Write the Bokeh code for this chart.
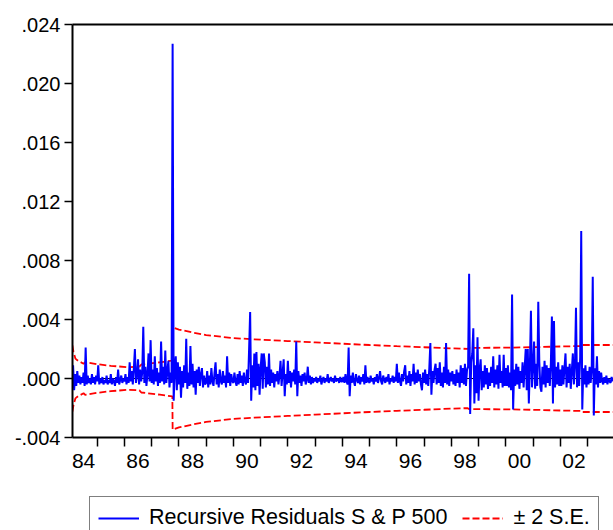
import numpy as np
from bokeh.plotting import figure
from bokeh.layouts import column
from bokeh.models import (Range1d, FixedTicker, LinearAxis, Span, Legend,
                          LegendItem, ColumnDataSource)
from bokeh.embed import file_html
from bokeh.resources import INLINE

# ---------------- data ----------------
# Recursive residuals, in units of 1e-4,
# sampled 26 times per year (index k -> year + k/26)
res_1984 = [9, -8, 3, -5, 5, -3, 2, -4, 1, -3, 4, -5, 21, -4, 2, -3, 0, -4, 3, -3, 1, -4, 2]  # starts at k=3
res_1985 = [-2, 9, -4, 0, -3, 1, -4, -1, -3, 2, -4, -1, -3, 3, -4, 0, -2, -5, 1, -3, 6, -4, -1, 2, -3, 0]
res_1986 = [-2, 3, -4, 1, -3, 11, -2, 5, -4, 7, 20, -3, 2, 13, -4, 6, -2, 4, 35, -3, 8, -5, 3, 17, -2, 26]
res_1987 = [-3, 6, -4, 15, -2, 7, -5, 4, -3, 25, -2, 8, -4, 19, -3, 5, 12, -6, 4, -3, 227, -15, 6, 15, -8, 11]
res_1988 = [-4, 8, -13, 5, -6, 9, -3, 27, -7, 4, -5, 22, -4, 10, -6, 5, -11, 6, -3, 8, -5, 3, 7, -6, 2, -4]
res_1989 = [-3, 5, -6, 2, -4, 7, -2, -5, 4, 11, -4, 3, -6, 6, -2, -4, 5, -3, 2, -6, 15, -3, 4, -5, 3, -2]
res_1990 = [-3, 4, -2, -5, 3, -4, 5, -3, 2, -5, 4, -2, -4, 6, -3, 20, 45, -15, 9, -6, 17, -8, 18, -5, 10, -11]
res_1991 = [7, 17, -7, 17, 11, -6, 8, -4, 17, -5, 6, -3, 4, -6, 3, -2, 5, -4, 2, 12, -5, 4, 13, -12, 3, -4]
res_1992 = [12, -3, 5, -6, 4, -2, 6, -4, 25, -12, 5, -3, 2, -5, 3, -2, 4, -4, -1, 8, -3, 2, -4, 1, -3, 0]
res_1993 = [-2, 1, -3, 0, -2, 2, -4, -1, 1, -3, 0, -2, 3, -3, -1, 1, -2, 0, -3, 2, -2, -1, 0, -3, 1, -2]
res_1994 = [-2, 1, -3, 3, -2, -4, 21, -12, 2, -3, 4, -2, -5, 3, -1, -3, 2, -4, 1, -2, 3, -4, 9, -3, 1, -2]
res_1995 = [-3, 2, -2, 0, -4, 1, -2, 3, -3, 0, 5, -2, -4, 2, -1, -3, 1, -2, 3, -4, 0, -2, 2, -3, 1, -2]
res_1996 = [10, -3, 4, -2, -5, 3, -2, 5, 9, -4, 2, -3, 5, -5, 3, -2, 10, -4, 4, -3, 6, -2, 3, -4, -8, 4]
res_1997 = [-3, 6, -4, 3, -5, 7, 24, -11, 5, -3, 6, 10, -4, 7, -3, 11, -5, 4, -6, 8, -3, 24, -4, 6, -5, 4]
res_1998 = [-2, 5, -4, 3, -5, 6, -3, 4, -6, 9, -3, 7, -4, 10, -5, 6, 8, 71, -24, 11, 17, 34, -17, 9, -10, 28]
res_1999 = [-15, 6, 13, -8, 5, -6, 9, -4, 7, -7, 4, -5, 8, -3, 15, -6, 6, -4, 9, -7, 16, -3, 5, -6, 16, -5]
res_2000 = [7, -5, 9, -6, 4, -8, 57, -21, 6, -5, 10, -4, 8, -7, 5, -3, 11, -6, 7, 20, -8, 20, -17, 9, 46, -6]
res_2001 = [8, 25, -7, 10, -5, 52, 11, -6, -9, 8, -4, 12, -6, 9, -3, 7, -5, 10, 42, -17, 39, -6, 8, -4, 11, -5]
res_2002 = [6, -5, 9, -4, 7, 17, -6, 8, -3, 10, -7, 5, 17, -4, 9, 48, -6, 11, -5, 14, 100, -21, 7, -4, 9, -6]
res_2003 = [5, -4, 8, -3, 6, 69, -25, 7, -4, 15, -6, 5, -3, 4, -2, -4, 1, -3, 2, -4, 0, -2, -3, 1, -2]

residual_blocks = [
    (1984, 3, res_1984), (1985, 0, res_1985), (1986, 0, res_1986), (1987, 0, res_1987),
    (1988, 0, res_1988), (1989, 0, res_1989), (1990, 0, res_1990), (1991, 0, res_1991),
    (1992, 0, res_1992), (1993, 0, res_1993), (1994, 0, res_1994), (1995, 0, res_1995),
    (1996, 0, res_1996), (1997, 0, res_1997), (1998, 0, res_1998), (1999, 0, res_1999),
    (2000, 0, res_2000), (2001, 0, res_2001), (2002, 0, res_2002), (2003, 0, res_2003),
]

# +/- 2 standard errors band (upper half; lower is its mirror)
se_years = [1984.09, 1984.13, 1984.20, 1984.30, 1984.50, 1984.56, 1985.0, 1985.5,
            1986.1, 1986.55, 1986.62, 1987.3, 1987.76, 1987.77, 1988.0, 1988.5,
            1989.0, 1990.0, 1991.0, 1992.0, 1993.0, 1994.0, 1995.0, 1996.0,
            1997.0, 1998.0, 1998.6, 1998.65, 1999.0, 2000.0, 2001.0, 2002.0,
            2002.75, 2002.78, 2003.96]
se_upper = [0.00225, 0.00180, 0.00135, 0.00120, 0.00100, 0.00111, 0.00097, 0.00086,
            0.00077, 0.00080, 0.00095, 0.00110, 0.00121, 0.00347, 0.00332, 0.00312,
            0.00294, 0.00274, 0.00263, 0.00254, 0.00245, 0.00236, 0.00227, 0.00219,
            0.00212, 0.00204, 0.00201, 0.00207, 0.00208, 0.00209, 0.00212, 0.00217,
            0.00220, 0.00227, 0.00227]

y_ticks = [-0.004, 0.0, 0.004, 0.008, 0.012, 0.016, 0.020, 0.024]
y_tick_labels = ["-.004", ".000", ".004", ".008", ".012", ".016", ".020", ".024"]
x_label_years = [1984, 1986, 1988, 1990, 1992, 1994, 1996, 1998, 2000, 2002]
x_tick_labels = ["84", "86", "88", "90", "92", "94", "96", "98", "00", "02"]
x_minor_years = list(range(1984, 2005))
legend_labels = ["Recursive Residuals S & P 500", "\u00b1 2 S.E."]

# ---------------- build ----------------
t, r = [], []
for yr, k0, vals in residual_blocks:
    for j, v in enumerate(vals):
        t.append(yr + (k0 + j) / 26.0)
        r.append(v * 1e-4)

res_src = ColumnDataSource(dict(t=t, r=r))
band_src = ColumnDataSource(dict(t=se_years, up=se_upper, lo=[-v for v in se_upper]))

FONT = "Liberation Sans"
BLUE = "#0000FF"
RED = "#FF0000"
DASH = "7 3"

p = figure(width=613, height=496, output_backend="svg", toolbar_location=None,
           x_range=Range1d(1984.094, 2003.954), y_range=Range1d(-0.004, 0.024),
           min_border_left=72, min_border_right=0, min_border_top=24,
           min_border_bottom=59)
p.outline_line_color = None
p.grid.visible = False
p.background_fill_color = "white"
p.border_fill_color = "white"

zero = Span(location=0, dimension="width", line_color="black", line_width=1,
            level="underlay")
p.add_layout(zero)

r_up = p.line("t", "up", source=band_src, line_color=RED, line_width=1.8, line_dash=DASH)
r_lo = p.line("t", "lo", source=band_src, line_color=RED, line_width=1.8, line_dash=DASH)
r_res = p.line("t", "r", source=res_src, line_color=BLUE, line_width=2)

# y axis
ya = p.yaxis[0]
ya.ticker = FixedTicker(ticks=y_ticks)
ya.major_label_overrides = {k: v for k, v in zip(y_ticks, y_tick_labels)}
ya.major_label_text_font = FONT
ya.major_label_text_font_size = "20px"
ya.major_label_text_color = "black"
ya.major_tick_out = 8
ya.major_tick_in = 0
ya.major_tick_line_color = "black"
ya.major_tick_line_width = 1.5
ya.minor_tick_line_color = None
ya.axis_line_color = "black"
ya.axis_line_width = 2
ya.major_label_standoff = 4

# x axis: labels centred mid-year, ticks at year boundaries
xa = p.xaxis[0]
xa.ticker = FixedTicker(ticks=[y + 0.5 for y in x_label_years], minor_ticks=x_minor_years)
xa.major_label_overrides = {y + 0.5: s for y, s in zip(x_label_years, x_tick_labels)}
xa.major_label_text_font = FONT
xa.major_label_text_font_size = "21px"
xa.major_label_text_color = "black"
xa.major_tick_out = 0
xa.major_tick_in = 0
xa.major_tick_line_color = None
xa.minor_tick_out = 9
xa.minor_tick_in = 0
xa.minor_tick_line_color = "black"
xa.minor_tick_line_width = 1.5
xa.axis_line_color = "black"
xa.axis_line_width = 2
xa.major_label_standoff = 7

# top frame line
top = LinearAxis(ticker=FixedTicker(ticks=[]), axis_line_color="black",
                 axis_line_width=2, major_tick_line_color=None,
                 minor_tick_line_color=None, major_label_text_font_size="0px")
p.add_layout(top, "above")

# legend strip below the chart (same line styles as the chart series)
lg = figure(width=613, height=34, output_backend="svg", toolbar_location=None,
            x_range=Range1d(0, 1), y_range=Range1d(0, 1),
            x_axis_type=None, y_axis_type=None,
            min_border_left=72, min_border_right=0, min_border_top=0,
            min_border_bottom=0)
lg.outline_line_color = None
lg.grid.visible = False
lg.background_fill_color = "white"
lg.border_fill_color = "white"
# legend-only renderers: their single segment lies outside the visible range
g_res = lg.line([-2, -1], [-2, -2], line_color=BLUE, line_width=2)
g_se = lg.line([-2, -1], [-2, -2], line_color=RED, line_width=1.8, line_dash=DASH)

legend = Legend(items=[LegendItem(label=legend_labels[0], renderers=[g_res]),
                       LegendItem(label=legend_labels[1], renderers=[g_se])],
                location=(17, -9), orientation="horizontal",
                label_text_font=FONT, label_text_font_size="21.5px",
                label_text_color="black", glyph_width=41, glyph_height=20,
                label_standoff=10, spacing=15, padding=8, margin=0,
                border_line_color="black", border_line_width=1,
                background_fill_color="white", background_fill_alpha=1.0)
lg.add_layout(legend, "center")

layout = column(p, lg, spacing=0)
open("out.html", "w").write(file_html(layout, INLINE))
